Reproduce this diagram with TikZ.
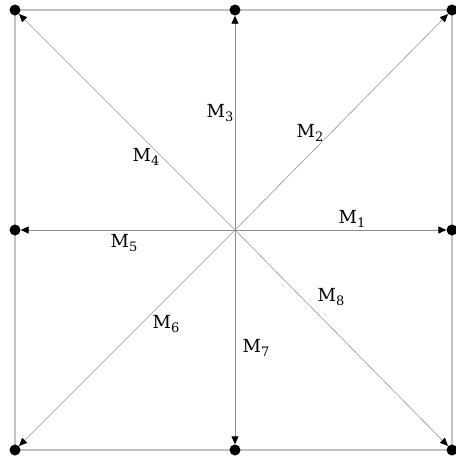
\documentclass[tikz,border=0pt]{standalone}
\usepackage{fontspec}
\setmainfont{DejaVu Serif}
\usetikzlibrary{arrows.meta,backgrounds}
\newcommand{\msub}[1]{M\raisebox{-0.25em}{\fontsize{13}{15}\selectfont #1}}
\begin{document}
\begin{tikzpicture}[x=1pt,y=-1pt,
  pt/.style={circle,fill=black,inner sep=0pt,minimum size=11pt},
  edge/.style={draw={rgb,255:red,195;green,195;blue,195},line width=1.4pt},
  tip/.style={-{Triangle[length=8pt,width=7pt,color=black]}},
  axis/.style={draw={rgb,255:red,140;green,140;blue,140},line width=0.9pt,tip},
  diag/.style={draw={rgb,255:red,150;green,150;blue,150},line width=0.6pt,tip},
  lab/.style={font=\fontsize{18}{21}\selectfont,inner sep=0pt}]
\useasboundingbox (0,0) rectangle (456,459);
\coordinate (c) at (235,230);
\node[pt] (tl) at (15,10) {};
\node[pt] (tm) at (235,10) {};
\node[pt] (tr) at (452,10) {};
\node[pt] (ml) at (15,230) {};
\node[pt] (mr) at (452,230) {};
\node[pt] (bl) at (15,450) {};
\node[pt] (bm) at (235,450) {};
\node[pt] (br) at (452,450) {};
\begin{scope}[on background layer]
\draw[edge] (tl.center) -- (tm.center) -- (tr.center) -- (mr.center) -- (br.center) -- (bm.center) -- (bl.center) -- (ml.center) -- cycle;
\draw[axis] (c) -- (mr);
\draw[axis] (c) -- (tm);
\draw[axis] (c) -- (ml);
\draw[axis] (c) -- (bm);
\draw[diag] (c) -- (tr);
\draw[diag] (c) -- (tl);
\draw[diag] (c) -- (bl);
\draw[diag] (c) -- (br);
\end{scope}
\node[lab] (m1) at (352,219) {\msub{1}};
\node[lab] (m2) at (310,133) {\msub{2}};
\node[lab] (m3) at (220,113) {\msub{3}};
\node[lab] (m4) at (146,157) {\msub{4}};
\node[lab] (m5) at (124,243) {\msub{5}};
\node[lab] (m6) at (166,324) {\msub{6}};
\node[lab] (m7) at (256,348) {\msub{7}};
\node[lab] (m8) at (331,297) {\msub{8}};
\end{tikzpicture}
\end{document}
